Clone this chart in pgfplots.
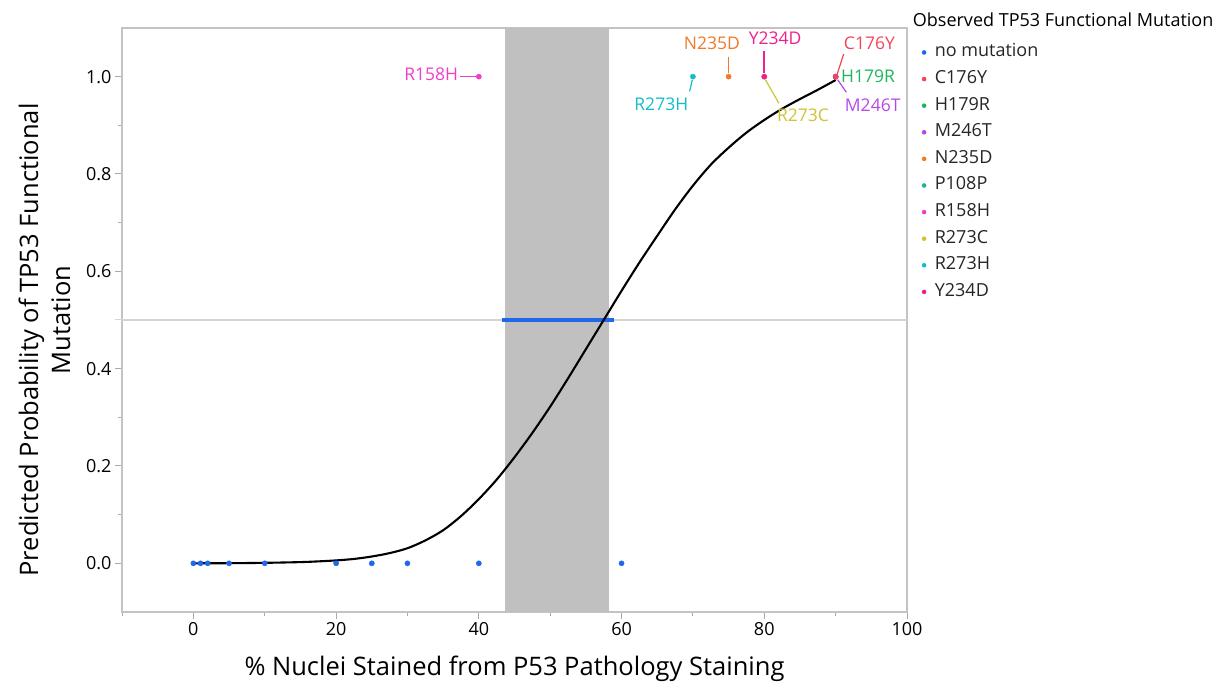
\documentclass[border=0pt]{standalone}
\usepackage{pgfplots}
\pgfplotsset{compat=1.18}
\usepackage{fontspec}
\setmainfont{Open Sans}
\definecolor{axisgray}{RGB}{195,195,195}
\definecolor{tickgray}{RGB}{170,170,170}
\definecolor{shade}{RGB}{192,192,192}
\definecolor{midline}{RGB}{212,212,212}
\definecolor{cblue}{RGB}{30,105,235}
\definecolor{cC176Y}{RGB}{242,70,88}
\definecolor{cH179R}{RGB}{30,182,92}
\definecolor{cM246T}{RGB}{182,72,232}
\definecolor{cN235D}{RGB}{240,122,40}
\definecolor{cP108P}{RGB}{20,185,150}
\definecolor{cR158H}{RGB}{240,62,200}
\definecolor{cR273C}{RGB}{205,195,55}
\definecolor{cR273H}{RGB}{20,190,200}
\definecolor{cY234D}{RGB}{240,32,140}
\newcommand{\fs}[1]{\fontsize{#1bp}{#1bp}\selectfont}
\begin{document}
\begin{tikzpicture}[x=1bp,y=1bp]
\path[use as bounding box] (0,0) rectangle (1215,684);
\begin{axis}[
  at={(122bp,72bp)}, anchor=south west,
  scale only axis, width=785bp, height=584bp,
  xmin=-10, xmax=100, ymin=-0.1, ymax=1.1,
  xtick={0,20,40,60,80,100},
  minor xtick={-10,10,30,50,70,90},
  ytick={0,0.2,0.4,0.6,0.8,1.0},
  minor ytick={0.1,0.3,0.7,0.9},
  extra y ticks={0.5}, extra y tick labels={},
  extra y tick style={major tick length=7bp, tick style={draw=midline}},
  tick pos=left,
  tick align=outside,
  major tick length=7bp, minor tick length=4bp,
  axis line style={draw=axisgray, line width=1.1bp},
  every tick/.style={draw=tickgray, line width=1bp},
  tick label style={font=\fs{18}, text=black},
  /pgf/number format/assume math mode=true,
  yticklabel style={/pgf/number format/.cd, fixed, fixed zerofill, precision=1},
  legend style={at={(rel axis cs:1,1)}, anchor=north west, xshift=14.8bp, yshift=-17bp,
    draw=none, fill=none, inner sep=0pt, outer sep=0pt,
    font=\fs{18}, row sep=11.6bp, column sep=0bp,
    nodes={inner sep=0pt, text height=12bp, text depth=3bp, text=black!85}},
  legend cell align=left,
  legend image code/.code={\fill[#1] (2.3bp,0bp) circle (2.3bp);\path (0,0) -- (13bp,0);},
  clip=false,
]
% shaded interval
\addplot[fill=shade, draw=none, forget plot] coordinates {(43.6,-0.1) (58.3,-0.1) (58.3,1.1) (43.6,1.1)} -- cycle;
% 0.5 reference line
\addplot[midline, line width=1.5bp, forget plot] coordinates {(-10,0.5) (100,0.5)};
% blue interval line
\addplot[cblue, line width=3.2bp, forget plot] coordinates {(43.3,0.5) (59.0,0.5)};
% fitted curve
\addplot[black, line width=2.1bp, smooth, tension=0.5, forget plot] coordinates {
(0,0.000)(5,0.0003)(10,0.001)(15,0.0025)(17.5,0.004)(20,0.006)(22.5,0.009)(25,0.014)(27.5,0.021)(30,0.031)(32.5,0.047)(35,0.068)(37.5,0.097)(40,0.132)(42.5,0.172)(45,0.218)(47.5,0.268)(50,0.322)(52.5,0.38)(55,0.44)(57.5,0.5)(60,0.56)(62.5,0.618)(65,0.673)(67.5,0.727)(70,0.776)(72.5,0.819)(75,0.854)(77.5,0.885)(80,0.911)(82.5,0.934)(85,0.954)(87.5,0.973)(90,0.993)};
% observed points
\addplot[only marks, mark=*, mark size=2.6bp, cblue, draw=none] coordinates {(0,0)(1,0)(2,0)(5,0)(10,0)(20,0)(25,0)(30,0)(40,0)(60,0)};
\addlegendentry{no mutation}
\addplot[only marks, mark=*, mark size=2.6bp, cC176Y, draw=none] coordinates {(90,1)};
\addlegendentry{C176Y}
\addplot[only marks, mark=*, mark size=2.6bp, cH179R, draw=none] coordinates {(90,1)};
\addlegendentry{H179R}
\addplot[only marks, mark=*, mark size=2.6bp, cM246T, draw=none] coordinates {(90,1)};
\addlegendentry{M246T}
\addplot[only marks, mark=*, mark size=2.6bp, cN235D, draw=none] coordinates {(75,1)};
\addlegendentry{N235D}
\addlegendimage{only marks, mark=*, cP108P, draw=none}
\addlegendentry{P108P}
\addplot[only marks, mark=*, mark size=2.6bp, cR158H, draw=none] coordinates {(40,1)};
\addlegendentry{R158H}
\addplot[only marks, mark=*, mark size=2.6bp, cR273C, draw=none] coordinates {(80,1)};
\addlegendentry{R273C}
\addplot[only marks, mark=*, mark size=2.6bp, cR273H, draw=none] coordinates {(70,1)};
\addlegendentry{R273H}
\addplot[only marks, mark=*, mark size=2.6bp, cY234D, draw=none] coordinates {(80,1)};
\addlegendentry{Y234D}
\addplot[only marks, mark=*, mark size=2.6bp, cC176Y, draw=none, forget plot] coordinates {(90,1)};
% leader lines
\draw[cR158H, line width=1.2bp] (axis cs:37.39,1) -- (axis cs:39.86,1);
\draw[cR273H, line width=1.2bp] (axis cs:69.91,0.9932) -- (axis cs:69.54,0.9698);
\draw[cN235D, line width=1.2bp] (axis cs:75,1.0411) -- (axis cs:75,1.0068);
\draw[cY234D, line width=1.2bp] (axis cs:79.95,1.052) -- (axis cs:79.95,1.0068);
\draw[cC176Y, line width=1.2bp] (axis cs:91.13,1.0466) -- (axis cs:90.19,1.0041);
\draw[cM246T, line width=1.2bp] (axis cs:90.28,0.9938) -- (axis cs:91.5,0.9678);
\draw[cR273C, line width=1.2bp] (axis cs:80.15,0.9938) -- (axis cs:82.05,0.9452);
% point labels
\node[font=\fs{17.5}, text=cR158H, inner sep=0pt] at (axis cs:33.32,1.004) {R158H};
\node[font=\fs{17.5}, text=cR273H, inner sep=0pt] at (axis cs:65.57,0.9425) {R273H};
\node[font=\fs{17.5}, text=cN235D, inner sep=0pt] at (axis cs:72.66,1.0688) {N235D};
\node[font=\fs{17.5}, text=cY234D, inner sep=0pt] at (axis cs:81.52,1.079) {Y234D};
\node[font=\fs{17.5}, text=cC176Y, inner sep=0pt] at (axis cs:94.73,1.0688) {C176Y};
\node[font=\fs{17.5}, text=cH179R, inner sep=0pt] at (axis cs:94.53,1.0004) {H179R};
\node[font=\fs{17.5}, text=cM246T, inner sep=0pt] at (axis cs:95.19,0.941) {M246T};
\node[font=\fs{17.5}, text=cR273C, inner sep=0pt] at (axis cs:85.42,0.92) {R273C};
\end{axis}
% axis titles
\node[font=\fs{25.5}, anchor=base, inner sep=0pt] at (514.5,8) {\% Nuclei Stained from P53 Pathology Staining};
\node[font=\fs{25.5}, anchor=base, rotate=90, inner sep=0pt] at (38,344) {Predicted Probability of TP53 Functional};
\node[font=\fs{25.5}, anchor=base, rotate=90, inner sep=0pt] at (70,364) {Mutation};
% legend title
\node[font=\fs{18}, anchor=base west, inner sep=0pt] at (912.7,657.3) {Observed TP53 Functional Mutation};
\end{tikzpicture}
\end{document}
